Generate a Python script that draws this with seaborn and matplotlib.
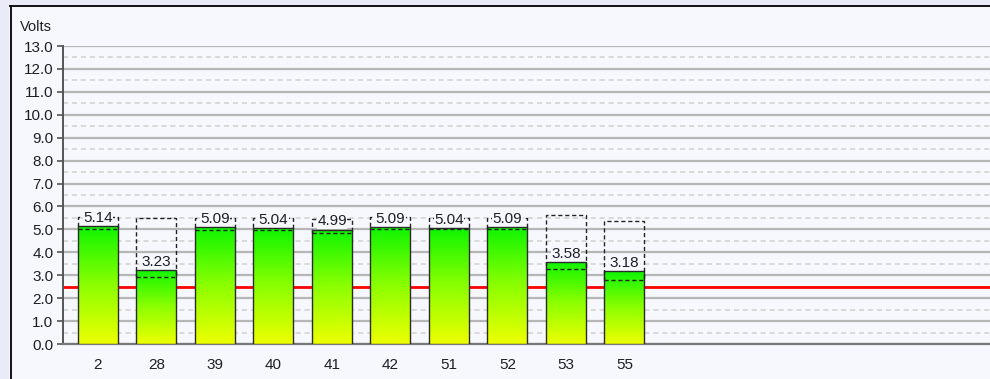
import numpy as np
import pandas as pd
import matplotlib
matplotlib.use("Agg")
import matplotlib.pyplot as plt
from matplotlib.colors import LinearSegmentedColormap
from matplotlib.patches import Rectangle
from matplotlib.lines import Line2D
import seaborn as sns

# Channel readings
channels = ["2", "28", "39", "40", "41", "42", "51", "52", "53", "55"]
volts = [5.14, 3.23, 5.09, 5.04, 4.99, 5.09, 5.04, 5.09, 3.58, 3.18]
# Recorded min / max envelope per channel (dashed boxes)
range_low = [5.00, 2.91, 4.97, 4.99, 4.84, 5.03, 5.00, 5.02, 3.26, 2.80]
range_high = [5.55, 5.50, 5.48, 5.48, 5.45, 5.55, 5.48, 5.48, 5.63, 5.36]
threshold = 2.5
y_max = 13.0

plt.rcParams["font.family"] = ["Liberation Sans", "DejaVu Sans"]
BG = "#f7f8fd"
TXT = "#1e1e28"

df = pd.DataFrame({"channel": channels, "volts": volts})

fig = plt.figure(figsize=(9.9, 3.79), dpi=100, facecolor=BG)
W, H = 990.0, 379.0

# panel frame: light outer band with a dark border line
fig.patches.append(Rectangle((0, 1 - 5 / H), 1, 5 / H, transform=fig.transFigure,
                             facecolor="#e9ebf8", edgecolor="none", zorder=0))
fig.patches.append(Rectangle((0, 0), 9 / W, 1, transform=fig.transFigure,
                             facecolor="#e9ebf8", edgecolor="none", zorder=0))
fig.add_artist(Line2D([10 / W, 1], [1 - 6 / H] * 2, transform=fig.transFigure,
                      color="#111111", lw=1.4))
fig.add_artist(Line2D([10.5 / W] * 2, [0, 1 - 6 / H], transform=fig.transFigure,
                      color="#111111", lw=1.4))

ax = fig.add_axes([63 / W, 35 / H, 927 / W, 298 / H])
ax.set_facecolor(BG)

bar_w = 0.684
sns.barplot(data=df, x="channel", y="volts", order=channels, width=bar_w,
            color="#44ff00", edgecolor="#2a2a2a", linewidth=1.0, ax=ax,
            zorder=3, errorbar=None)

# vertical yellow-to-green gradient inside each bar
cmap = LinearSegmentedColormap.from_list("volt_grad", ["#eeff00", "#8cff00", "#0ef500"])
grad = np.linspace(0, 1, 256).reshape(-1, 1)
for p in ax.patches:
    x0, y0 = p.get_x(), p.get_y()
    w, h = p.get_width(), p.get_height()
    im = ax.imshow(grad, extent=[x0, x0 + w, y0, y0 + h], origin="lower",
                   aspect="auto", cmap=cmap, zorder=2.8, interpolation="bilinear")
    im.set_clip_path(p)
    p.set_facecolor("none")

# min/max envelope boxes
for i, (lo, hi) in enumerate(zip(range_low, range_high)):
    ax.add_patch(Rectangle((i - bar_w / 2, lo), bar_w, hi - lo, fill=False,
                           edgecolor="#222222", lw=1.0, ls=(0, (3, 2)), zorder=4))

# value labels
for i, v in enumerate(volts):
    ax.annotate(f"{v:.2f}", (i, v), xytext=(0, 1.0), textcoords="offset points",
                ha="center", va="bottom", fontsize=11, color=TXT, zorder=5,
                bbox=dict(facecolor=BG, edgecolor="none", pad=0.2))

# alarm threshold
ax.axhline(threshold, color="#ff0000", lw=2.0, zorder=2)

ax.set_xlim(-0.598, 15.248)
ax.set_ylim(0, y_max)
ax.set_yticks(np.arange(0, y_max + 0.1, 1.0))
ax.set_yticks(np.arange(0.5, y_max, 1.0), minor=True)
ax.set_yticklabels([f"{t:.1f}" for t in np.arange(0, y_max + 0.1, 1.0)])
ax.yaxis.grid(True, which="major", color="#b6b6b6", lw=1.6, zorder=1)
ax.yaxis.grid(True, which="minor", color="#d9d9d9", lw=1.4, ls=(0, (2.6, 2.0)), zorder=1)
ax.set_axisbelow(True)

ax.tick_params(axis="y", which="major", length=4, width=1.2, color="#555555",
               labelsize=11, labelcolor=TXT, pad=3)
ax.tick_params(axis="y", which="minor", length=0)
ax.tick_params(axis="x", length=0, labelsize=11, labelcolor=TXT, pad=10)
ax.set_xlabel("")
ax.set_ylabel("")

for s in ["top", "right"]:
    ax.spines[s].set_visible(False)
ax.spines["left"].set_color("#555555")
ax.spines["left"].set_linewidth(1.4)
ax.spines["bottom"].set_color("#777777")
ax.spines["bottom"].set_linewidth(1.6)

fig.text(20 / W, 1 - 27 / H, "Volts", ha="left", va="center", fontsize=10.5, color=TXT)

fig.savefig("out.png", dpi=100, facecolor=BG)
